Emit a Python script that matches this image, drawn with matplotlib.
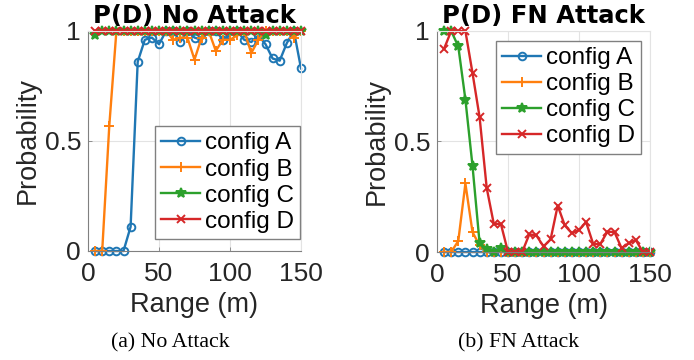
import matplotlib
matplotlib.use("Agg")
import matplotlib.pyplot as plt

# --------------------------------------------------------------------------- #
# Data
# --------------------------------------------------------------------------- #

ranges = list(range(5, 155, 5))  # 5 .. 150 m

labels = ["config A", "config B", "config C", "config D"]

no_attack_a = [0, 0, 0, 0, 0, 0.11, 0.86, 0.96, 0.97, 0.94,
               1.0, 1.0, 0.95, 1.0, 0.97, 0.96, 1.0, 1.0, 0.96, 0.98,
               1.0, 0.96, 0.95, 0.98, 0.94, 0.875, 0.865, 0.945, 1.0, 0.83]
no_attack_b = [0, 0, 0.57, 1.0, 1.0, 1.0, 1.0, 1.0, 1.0, 1.0,
               1.0, 0.96, 0.97, 0.97, 0.87, 0.97, 1.0, 0.91, 0.96, 0.96,
               0.98, 1.0, 0.90, 0.96, 1.0, 1.0, 1.0, 1.0, 0.97, 1.0]
no_attack_c = [0.98] + [1.0] * 23 + [0.98] + [1.0] * 5
no_attack_d = [1.0] * 30

fn_attack_a = [0.0] * 30
fn_attack_b = [0, 0, 0.05, 0.31, 0.09, 0.03, 0, 0, 0, 0,
               0, 0, 0, 0, 0, 0, 0, 0, 0, 0,
               0, 0, 0, 0, 0, 0, 0, 0, 0, 0]
fn_attack_c = [1.0, 1.0, 0.93, 0.69, 0.39, 0.04, 0.015, 0, 0.02, 0,
               0, 0, 0, 0, 0, 0, 0, 0, 0, 0,
               0, 0, 0, 0, 0, 0, 0, 0, 0, 0]
fn_attack_d = [0.92, 1.0, 1.0, 1.0, 0.81, 0.61, 0.29, 0.127, 0.127, 0,
               0, 0, 0.08, 0.075, 0.025, 0.057, 0.21, 0.12, 0.085, 0.10,
               0.135, 0.036, 0.036, 0.092, 0.09, 0.017, 0.04, 0.054, 0, 0]

xticks = [0, 50, 100, 150]
yticks = [0, 0.5, 1]
ytick_labels = ["0", "0.5", "1"]

# --------------------------------------------------------------------------- #
# Styling
# --------------------------------------------------------------------------- #

COLORS = ["#1f77b4", "#ff7f0e", "#2ca02c", "#d62728"]
MARKERS = ["o", "+", "*", "x"]
MSIZES = [5.5, 7.5, 7.0, 5.5]
TEXT_GREY = "#262626"

plt.rcParams["font.family"] = ["Liberation Sans", "DejaVu Sans"]


def style_axes(ax, title):
    ax.set_xlim(0, 150)
    ax.set_ylim(0, 1)
    ax.set_xticks(xticks)
    ax.set_yticks(yticks)
    ax.set_yticklabels(ytick_labels)
    ax.tick_params(direction="in", length=3, width=0.6, colors="#808080",
                   labelcolor=TEXT_GREY, labelsize=19)
    ax.tick_params(axis="x", pad=8)
    ax.tick_params(axis="y", pad=5)
    ax.grid(True, color="#e3e3e3", linewidth=0.8)
    ax.set_axisbelow(True)
    for side in ("left", "bottom"):
        ax.spines[side].set_color("#808080")
        ax.spines[side].set_linewidth(0.8)
    for side in ("top", "right"):
        ax.spines[side].set_color("#e3e3e3")
        ax.spines[side].set_linewidth(0.8)
    ax.set_xlabel("Range (m)", fontsize=19.5, color=TEXT_GREY, labelpad=4)
    ax.set_ylabel("Probability", fontsize=19.5, color=TEXT_GREY, labelpad=3)
    ax.set_title(title, fontsize=17.5, fontweight="bold", pad=6,
                 family=["DejaVu Sans"])


def plot_series(ax, series):
    for values, label, color, marker, ms in zip(series, labels, COLORS,
                                                MARKERS, MSIZES):
        face = "none" if marker == "o" else color
        ax.plot(ranges, values, color=color, marker=marker, markersize=ms,
                markerfacecolor=face, markeredgewidth=1.4, linewidth=1.7,
                label=label, clip_on=False)


def add_legend(ax, **kw):
    ax.legend(fontsize=17.5, handlelength=1.6, handletextpad=0.2,
              labelspacing=0.17, borderpad=0.25, borderaxespad=0.0,
              fancybox=False, framealpha=1, edgecolor="#808080", **kw)


fig = plt.figure(figsize=(6.94, 3.6), dpi=100)
fig.patch.set_facecolor("white")

ax1 = fig.add_axes([88 / 694, 109 / 360, 213 / 694, 220 / 360])
plot_series(ax1, [no_attack_a, no_attack_b, no_attack_c, no_attack_d])
style_axes(ax1, "P(D) No Attack")
add_legend(ax1, loc="lower right", bbox_to_anchor=(0.995, 0.055))

ax2 = fig.add_axes([437 / 694, 108 / 360, 213 / 694, 221 / 360])
plot_series(ax2, [fn_attack_a, fn_attack_b, fn_attack_c, fn_attack_d])
style_axes(ax2, "P(D) FN Attack")
add_legend(ax2, loc="upper right", bbox_to_anchor=(0.958, 0.955))

fig.text(170 / 694, 17 / 360, "(a) No Attack", ha="center", va="center",
         fontsize=15.7, family=["Liberation Serif"])
fig.text(519 / 694, 17 / 360, "(b) FN Attack", ha="center", va="center",
         fontsize=15.7, family=["Liberation Serif"])

fig.savefig("out.png", dpi=100, facecolor="white")
